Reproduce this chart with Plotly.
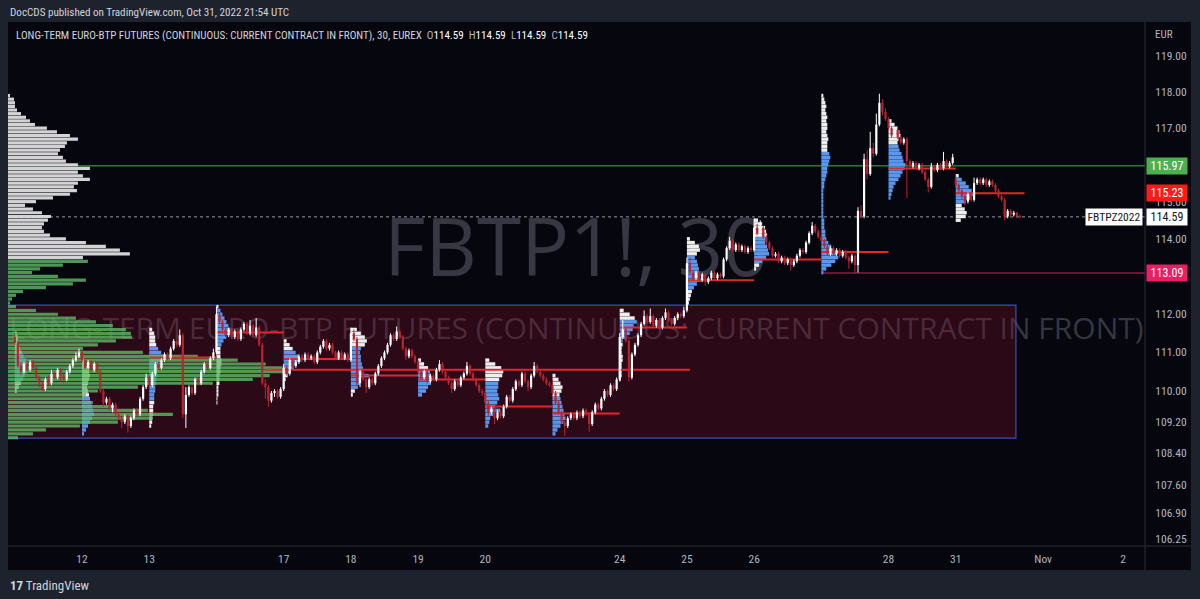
import math
import plotly.graph_objects as go

# ---------------------------------------------------------------- data ----
session_labels = ["Oct 11", "Oct 12", "Oct 13", "Oct 14", "Oct 17", "Oct 18", "Oct 19",
                  "Oct 20", "Oct 21", "Oct 24", "Oct 25", "Oct 26", "Oct 27", "Oct 28", "Oct 31"]
BARS_PER_SESSION = 22   # 30-minute bars per session

opens = [
    111.40, 111.25, 110.65, 110.50, 110.70, 110.55, 110.75, 110.60, 110.35, 110.20, 110.05, 110.30, 110.20, 110.45, 110.35, 110.55, 110.40, 110.30, 110.50, 110.65, 110.80, 110.90,
    111.00, 110.80, 110.60, 110.75, 110.55, 110.70, 110.50, 110.00, 109.70, 109.80, 109.55, 109.65, 109.40, 109.30, 109.20, 109.35, 109.10, 109.30, 109.50, 109.40, 109.80, 110.10,
    110.35, 110.15, 110.45, 110.70, 110.60, 110.80, 110.95, 110.85, 111.10, 111.30, 111.20, 111.45, 109.40, 109.90, 110.10, 109.95, 110.30, 110.20, 110.50, 110.70, 110.60, 110.85,
    111.00, 112.00, 111.80, 111.60, 111.45, 111.60, 111.40, 111.55, 111.35, 111.60, 111.75, 111.50, 111.70, 111.45, 111.65, 111.20, 110.20, 110.10, 109.75, 109.95, 110.00, 109.85,
    110.05, 110.60, 110.45, 110.80, 110.65, 110.75, 110.90, 110.80, 110.95, 110.85, 110.90, 110.75, 111.00, 111.15, 111.30, 111.10, 111.20, 111.00, 110.85, 111.00, 110.85, 110.95,
    110.80, 111.50, 111.35, 110.20, 110.50, 110.30, 110.10, 110.30, 110.20, 110.45, 110.65, 110.85, 111.00, 111.20, 111.45, 111.35, 111.55, 111.40, 111.10, 110.90, 111.05, 110.90,
    110.75, 110.50, 110.35, 110.50, 110.25, 110.40, 110.30, 110.55, 110.70, 110.50, 110.35, 110.20, 110.05, 110.25, 110.15, 110.35, 110.45, 110.65, 110.45, 110.30, 110.15, 110.00,
    109.95, 109.70, 109.45, 109.55, 109.30, 109.45, 109.35, 109.60, 109.85, 109.75, 110.05, 110.25, 110.15, 110.45, 110.25, 110.10, 110.40, 110.65, 110.50, 110.40, 110.30, 110.20,
    110.15, 109.95, 109.70, 109.45, 109.20, 109.10, 109.30, 109.40, 109.30, 109.45, 109.35, 109.50, 109.40, 109.15, 109.45, 109.65, 109.55, 109.80, 110.00, 109.90, 110.15, 110.05,
    110.30, 111.40, 111.60, 111.30, 110.35, 110.95, 111.20, 111.45, 111.75, 111.95, 111.80, 111.95, 111.70, 111.85, 111.65, 111.90, 112.05, 111.85, 111.75, 111.90, 112.00, 111.95,
    112.10, 113.35, 113.10, 112.95, 113.10, 112.90, 113.05, 112.85, 112.95, 113.10, 112.95, 113.05, 113.00, 113.45, 113.75, 113.95, 113.70, 113.85, 113.70, 113.80, 113.65, 113.75,
    113.70, 114.30, 114.15, 114.30, 114.05, 113.90, 113.75, 113.55, 113.60, 113.40, 113.50, 113.35, 113.45, 113.30, 113.40, 113.55, 113.70, 113.65, 113.90, 114.15, 114.35, 114.20,
    114.05, 113.95, 113.80, 113.60, 113.75, 113.60, 113.70, 113.55, 113.65, 113.50, 113.40, 113.55, 113.30, 114.75, 114.60, 116.15, 115.75, 116.45, 116.30, 117.10, 117.70, 117.45,
    117.25, 117.00, 116.80, 116.95, 116.75, 116.60, 116.70, 116.10, 115.95, 116.05, 115.90, 116.00, 115.80, 115.60, 115.40, 115.95, 115.85, 116.00, 115.90, 116.10, 115.95, 116.05,
    115.60, 115.45, 115.30, 115.15, 115.00, 115.20, 115.05, 115.50, 115.60, 115.50, 115.60, 115.45, 115.55, 115.45, 115.30, 115.15, 115.05, 114.60, 114.75, 114.65, 114.70, 114.60,
]
highs = [
    111.50, 111.30, 110.75, 110.75, 110.75, 110.80, 110.80, 110.65, 110.40, 110.25, 110.35, 110.40, 110.55, 110.50, 110.60, 110.60, 110.45, 110.55, 110.70, 110.85, 111.00, 111.10,
    111.05, 110.85, 110.80, 110.80, 110.75, 110.75, 110.55, 110.05, 109.85, 109.85, 109.70, 109.70, 109.45, 109.35, 109.40, 109.40, 109.35, 109.55, 109.55, 109.85, 110.15, 110.45,
    110.40, 110.50, 110.75, 110.75, 110.85, 111.00, 111.00, 111.15, 111.35, 111.35, 111.60, 111.50, 110.10, 110.15, 110.15, 110.35, 110.35, 110.55, 110.75, 110.75, 110.90, 111.10,
    112.20, 112.05, 111.85, 111.65, 111.65, 111.65, 111.60, 111.60, 111.65, 111.80, 111.80, 111.85, 111.75, 111.90, 111.70, 111.25, 110.30, 110.15, 110.00, 110.05, 110.05, 110.10,
    110.70, 110.65, 110.85, 110.85, 110.80, 110.95, 110.95, 111.00, 111.00, 110.95, 110.95, 111.05, 111.20, 111.35, 111.35, 111.25, 111.25, 111.05, 111.05, 111.05, 111.00, 111.00,
    111.65, 111.60, 111.40, 110.55, 110.55, 110.35, 110.35, 110.35, 110.50, 110.70, 110.90, 111.05, 111.25, 111.50, 111.50, 111.68, 111.60, 111.45, 111.15, 111.10, 111.10, 110.95,
    110.80, 110.55, 110.55, 110.55, 110.45, 110.45, 110.60, 110.80, 110.75, 110.55, 110.40, 110.25, 110.30, 110.30, 110.40, 110.50, 110.75, 110.70, 110.50, 110.35, 110.20, 110.05,
    110.00, 109.75, 109.60, 109.60, 109.50, 109.50, 109.65, 109.90, 109.90, 110.10, 110.30, 110.30, 110.50, 110.50, 110.30, 110.45, 110.75, 110.70, 110.55, 110.45, 110.35, 110.25,
    110.30, 110.00, 109.75, 109.50, 109.25, 109.35, 109.45, 109.45, 109.50, 109.50, 109.55, 109.55, 109.45, 109.50, 109.70, 109.70, 109.85, 110.05, 110.05, 110.20, 110.20, 110.35,
    111.50, 111.85, 111.65, 111.35, 111.00, 111.25, 111.50, 111.80, 112.10, 112.00, 112.15, 112.00, 111.90, 111.90, 111.95, 112.15, 112.10, 111.90, 111.95, 112.05, 112.05, 112.20,
    113.50, 113.50, 113.15, 113.15, 113.15, 113.10, 113.10, 113.00, 113.15, 113.15, 113.10, 113.10, 113.50, 113.80, 114.05, 114.00, 113.90, 113.90, 113.85, 113.85, 113.80, 113.80,
    114.55, 114.40, 114.50, 114.35, 114.10, 113.95, 113.80, 113.65, 113.65, 113.55, 113.55, 113.50, 113.50, 113.45, 113.60, 113.75, 113.75, 113.95, 114.20, 114.45, 114.40, 114.25,
    114.20, 114.00, 113.85, 113.80, 113.80, 113.75, 113.75, 113.70, 113.70, 113.55, 113.60, 113.60, 114.85, 114.90, 116.30, 116.40, 116.90, 116.60, 117.40, 117.95, 117.80, 117.55,
    117.30, 117.05, 117.00, 117.00, 116.80, 116.75, 116.75, 116.15, 116.10, 116.10, 116.05, 116.05, 115.85, 115.65, 116.05, 116.00, 116.05, 116.05, 116.35, 116.15, 116.10, 116.30,
    115.70, 115.50, 115.35, 115.20, 115.25, 115.25, 115.65, 115.65, 115.65, 115.65, 115.65, 115.60, 115.60, 115.50, 115.35, 115.20, 115.10, 114.80, 114.80, 114.75, 114.72, 114.65,
]
lows = [
    111.20, 110.60, 110.40, 110.45, 110.50, 110.50, 110.50, 110.30, 110.10, 110.00, 110.00, 110.15, 110.15, 110.30, 110.30, 110.25, 110.20, 110.25, 110.45, 110.60, 110.75, 110.85,
    110.75, 110.55, 110.55, 110.50, 110.50, 110.45, 109.95, 109.60, 109.65, 109.50, 109.45, 109.35, 109.25, 109.05, 109.15, 108.93, 109.05, 109.25, 109.35, 109.35, 109.75, 110.05,
    110.05, 110.10, 110.40, 110.55, 110.55, 110.75, 110.80, 110.80, 111.05, 111.15, 111.15, 109.30, 109.05, 109.85, 109.90, 109.90, 110.15, 110.15, 110.45, 110.55, 110.55, 110.80,
    110.95, 111.75, 111.55, 111.40, 111.40, 111.35, 111.35, 111.30, 111.30, 111.55, 111.45, 111.45, 111.40, 111.40, 111.15, 110.15, 109.80, 109.60, 109.70, 109.85, 109.80, 109.80,
    110.00, 110.40, 110.40, 110.60, 110.60, 110.70, 110.75, 110.75, 110.80, 110.80, 110.70, 110.70, 110.95, 111.10, 111.05, 111.05, 110.95, 110.80, 110.80, 110.80, 110.80, 110.75,
    110.75, 111.30, 110.15, 110.10, 110.25, 109.95, 110.05, 110.15, 110.15, 110.40, 110.60, 110.80, 110.95, 111.15, 111.30, 111.30, 111.35, 111.05, 110.80, 110.85, 110.85, 110.70,
    110.45, 110.30, 110.30, 110.20, 110.20, 110.25, 110.25, 110.50, 110.45, 110.30, 110.15, 109.95, 110.00, 110.10, 110.10, 110.30, 110.40, 110.40, 110.25, 110.10, 109.95, 109.88,
    109.65, 109.35, 109.40, 109.15, 109.25, 109.30, 109.30, 109.55, 109.70, 109.70, 110.00, 110.10, 110.10, 110.20, 110.00, 110.05, 110.35, 110.45, 110.35, 110.25, 110.15, 110.10,
    109.90, 109.65, 109.40, 109.15, 108.85, 109.05, 109.25, 109.25, 109.25, 109.30, 109.30, 109.35, 108.95, 109.10, 109.40, 109.50, 109.50, 109.75, 109.85, 109.85, 110.00, 110.00,
    110.25, 111.35, 111.25, 110.25, 110.30, 110.90, 111.15, 111.40, 111.70, 111.75, 111.75, 111.65, 111.65, 111.60, 111.60, 111.85, 111.80, 111.70, 111.70, 111.85, 111.90, 111.90,
    112.05, 113.05, 112.90, 112.90, 112.85, 112.85, 112.75, 112.80, 112.90, 112.90, 112.90, 112.95, 112.95, 113.40, 113.70, 113.65, 113.65, 113.65, 113.65, 113.60, 113.60, 113.65,
    113.65, 114.10, 114.10, 114.00, 113.85, 113.70, 113.50, 113.50, 113.35, 113.35, 113.30, 113.30, 113.15, 113.25, 113.35, 113.50, 113.60, 113.60, 113.85, 114.10, 114.15, 114.00,
    113.85, 113.75, 113.55, 113.55, 113.55, 113.55, 113.50, 113.50, 113.45, 113.20, 113.35, 113.09, 113.10, 114.55, 114.55, 115.60, 115.70, 116.20, 116.25, 117.05, 117.35, 117.20,
    116.95, 116.75, 116.75, 116.70, 116.55, 116.55, 115.10, 115.90, 115.90, 115.85, 115.85, 115.75, 115.55, 115.25, 115.35, 115.80, 115.80, 115.85, 115.85, 115.90, 115.90, 116.00,
    115.40, 115.25, 115.05, 114.90, 114.95, 115.00, 115.00, 115.45, 115.45, 115.45, 115.40, 115.40, 115.40, 115.25, 115.10, 115.00, 114.50, 114.55, 114.60, 114.60, 114.55, 114.55,
]
closes = [
    111.25, 110.65, 110.50, 110.70, 110.55, 110.75, 110.60, 110.35, 110.20, 110.05, 110.30, 110.20, 110.45, 110.35, 110.55, 110.40, 110.30, 110.50, 110.65, 110.80, 110.90, 111.00,
    110.80, 110.60, 110.75, 110.55, 110.70, 110.50, 110.00, 109.70, 109.80, 109.55, 109.65, 109.40, 109.30, 109.20, 109.35, 109.10, 109.30, 109.50, 109.40, 109.80, 110.10, 110.35,
    110.15, 110.45, 110.70, 110.60, 110.80, 110.95, 110.85, 111.10, 111.30, 111.20, 111.45, 109.40, 109.90, 110.10, 109.95, 110.30, 110.20, 110.50, 110.70, 110.60, 110.85, 111.00,
    112.00, 111.80, 111.60, 111.45, 111.60, 111.40, 111.55, 111.35, 111.60, 111.75, 111.50, 111.70, 111.45, 111.65, 111.20, 110.20, 110.10, 109.75, 109.95, 110.00, 109.85, 110.05,
    110.60, 110.45, 110.80, 110.65, 110.75, 110.90, 110.80, 110.95, 110.85, 110.90, 110.75, 111.00, 111.15, 111.30, 111.10, 111.20, 111.00, 110.85, 111.00, 110.85, 110.95, 110.80,
    111.50, 111.35, 110.20, 110.50, 110.30, 110.10, 110.30, 110.20, 110.45, 110.65, 110.85, 111.00, 111.20, 111.45, 111.35, 111.55, 111.40, 111.10, 110.90, 111.05, 110.90, 110.75,
    110.50, 110.35, 110.50, 110.25, 110.40, 110.30, 110.55, 110.70, 110.50, 110.35, 110.20, 110.05, 110.25, 110.15, 110.35, 110.45, 110.65, 110.45, 110.30, 110.15, 110.00, 109.95,
    109.70, 109.45, 109.55, 109.30, 109.45, 109.35, 109.60, 109.85, 109.75, 110.05, 110.25, 110.15, 110.45, 110.25, 110.10, 110.40, 110.65, 110.50, 110.40, 110.30, 110.20, 110.15,
    109.95, 109.70, 109.45, 109.20, 109.10, 109.30, 109.40, 109.30, 109.45, 109.35, 109.50, 109.40, 109.15, 109.45, 109.65, 109.55, 109.80, 110.00, 109.90, 110.15, 110.05, 110.30,
    111.40, 111.60, 111.30, 110.35, 110.95, 111.20, 111.45, 111.75, 111.95, 111.80, 111.95, 111.70, 111.85, 111.65, 111.90, 112.05, 111.85, 111.75, 111.90, 112.00, 111.95, 112.10,
    113.35, 113.10, 112.95, 113.10, 112.90, 113.05, 112.85, 112.95, 113.10, 112.95, 113.05, 113.00, 113.45, 113.75, 113.95, 113.70, 113.85, 113.70, 113.80, 113.65, 113.75, 113.70,
    114.30, 114.15, 114.30, 114.05, 113.90, 113.75, 113.55, 113.60, 113.40, 113.50, 113.35, 113.45, 113.30, 113.40, 113.55, 113.70, 113.65, 113.90, 114.15, 114.35, 114.20, 114.05,
    113.95, 113.80, 113.60, 113.75, 113.60, 113.70, 113.55, 113.65, 113.50, 113.40, 113.55, 113.30, 114.75, 114.60, 116.15, 115.75, 116.45, 116.30, 117.10, 117.70, 117.45, 117.25,
    117.00, 116.80, 116.95, 116.75, 116.60, 116.70, 116.10, 115.95, 116.05, 115.90, 116.00, 115.80, 115.60, 115.40, 115.95, 115.85, 116.00, 115.90, 116.10, 115.95, 116.05, 116.20,
    115.45, 115.30, 115.15, 115.00, 115.20, 115.05, 115.50, 115.60, 115.50, 115.60, 115.45, 115.55, 115.45, 115.30, 115.15, 115.05, 114.60, 114.75, 114.65, 114.70, 114.60, 114.59,
]

# composite (visible range) volume profile, rows of 0.10 from the top
comp_top = 117.9
comp_step = 0.1
comp_vol = [
    2, 6, 7, 7, 9, 13, 18, 22, 27, 39,
    49, 62, 70, 59, 57, 52, 50, 55, 58, 70,
    82, 70, 75, 82, 70, 66, 69, 62, 45, 28,
    17, 25, 34, 43, 40, 36, 34, 36, 42, 58,
    78, 98, 112, 122, 75, 80, 55, 32, 24, 50,
    78, 65, 38, 15, 8, 4, 2, 8, 28, 50,
    68, 88, 105, 118, 123, 124, 108, 90, 75, 135,
    190, 230, 258, 275, 282, 262, 245, 205, 130, 90,
    78, 76, 85, 105, 140, 165, 145, 110, 72, 38,
    25, 10,
]
comp_va_high = 113.45

# per-session volume profiles (rows of 0.10 from each session's top)
sess_step = 0.1
sess_top = [111.5, 110.8, 111.6, 112.2, 111.3, 111.6, 110.8, 110.8, 110.4, 112.1, 114.0, 114.5, 117.9, 117.2, 115.7]
sess_vol = [
    [2, 3, 3, 4, 5, 7, 9, 11, 13, 14, 12, 10, 8, 6, 4, 2],
    [2, 3, 5, 7, 8, 7, 6, 5, 6, 7, 8, 9, 10, 11, 12, 10, 8, 6, 4, 2],
    [3, 5, 6, 6, 7, 9, 12, 17, 12, 10, 9, 8, 8, 7, 7, 6, 6, 5, 5, 5, 4, 4, 4, 3, 3, 2],
    [2, 4, 6, 8, 10, 12, 14, 13, 10, 7, 5, 4, 4, 4, 5, 5, 4, 4, 3, 3, 3, 2, 2, 2, 1, 1],
    [3, 6, 9, 12, 15, 17, 13, 10, 7, 4, 2],
    [6, 10, 14, 16, 14, 10, 9, 10, 10, 11, 12, 11, 18, 10, 9, 7, 4, 2],
    [3, 6, 10, 12, 13, 14, 13, 10, 8, 4],
    [4, 10, 16, 18, 17, 14, 13, 13, 12, 13, 14, 12, 10, 15, 8, 5, 4, 3],
    [3, 6, 8, 10, 9, 7, 8, 9, 10, 11, 12, 13, 11, 8, 5, 3],
    [4, 10, 15, 17, 14, 13, 10, 7, 3, 3, 2, 2, 3, 3, 2, 2, 2, 2, 1],
    [3, 8, 12, 13, 10, 8, 10, 11, 12, 12, 13, 14, 10, 7, 5, 4, 3, 2, 1],
    [4, 8, 11, 12, 13, 12, 11, 13, 14, 15, 12, 8, 5, 2],
    [2, 3, 4, 5, 4, 5, 6, 5, 6, 6, 5, 6, 7, 6, 6, 6, 8, 9, 8, 7, 6, 6, 5, 4, 3,
     3, 2, 2, 2, 2, 2, 2, 2, 2, 3, 3, 3, 4, 4, 5, 7, 10, 12, 16, 17, 14, 10, 5, 2],
    [3, 6, 9, 11, 12, 10, 9, 10, 11, 13, 14, 15, 17, 16, 14, 12, 10, 7, 5, 4, 3, 2],
    [3, 6, 10, 13, 16, 18, 15, 10, 6, 9, 11, 10, 5],
]
sess_va_high = [110.95, 109.85, 111.15, 112.15, 111.05, 111.15, 110.55, 110.25, 109.85, 111.85, 113.55, 114.05, 116.35, 116.55, 115.65]
sess_va_low = [110.25, 108.85, 109.75, 111.15, 110.45, 110.05, 109.85, 109.05, 108.85, 111.25, 112.65, 113.35, 113.05, 115.05, 114.95]

# point-of-control lines (bar index from, bar index to, price)
poc_start = [44, 66, 82, 88, 110, 132, 154, 176, 198, 220, 242, 264, 286, 308]
poc_end = [66, 88, 221, 110, 132, 154, 176, 198, 220, 242, 264, 286, 308, 330.5]
poc_price = [110.87, 111.52, 110.55, 110.83, 110.40, 110.30, 109.60, 109.42, 111.65, 112.90, 113.45, 113.65, 115.90, 115.23]

level_green = 115.97
level_red = 113.09
level_red_from_bar = 264.5
poc_label = 115.23
last_price = 114.59
symbol_code = "FBTPZ2022"

box_top, box_bottom = 112.24, 108.79
box_to_bar = 327.7

# 116 and 113 sit under the coloured level labels in the reference, so they are not shown
y_tick_vals = [119, 118, 117, 115, 114, 112, 111, 110, 109.2, 108.4, 107.6, 106.9, 106.25]
x_tick_text = ["12", "13", "17", "18", "19", "20", "24", "25", "26", "28", "31", "Nov", "2"]
x_tick_bars = [22, 44, 88, 110, 132, 154, 198, 220, 242, 286, 308, 336.6, 362.8]

# ---------------------------------------------------------------- style ---
W, H = 1200, 599
M_L, M_R, M_T, M_B = 8, 55, 22, 53
X_RANGE = [-2.23, 369.95]
Y_RANGE = [math.log10(106.07), math.log10(119.953)]
PLOT_W, PLOT_H = W - M_L - M_R, H - M_T - M_B

BG_PAGE = "#1e222d"
BG_PANEL = "#06060f"
SEP = "#2a2e39"
TXT = "#b2b5be"
UP = "#ffffff"
DOWN = "#bb2330"
POC = "#e3262d"
VA_BLUE = "#5a98ee"
PROF_WHITE = "#eeeeee"
FONT = "Liberation Sans Narrow, Roboto Condensed, Arial Narrow, Roboto, sans-serif"
WM_FONT = "Open Sans, sans-serif"
VOL_TO_BARS = 0.327

n = len(closes)
assert len(opens) == n and len(highs) == n and len(lows) == n, (len(opens), len(highs), len(lows), n)
assert len(comp_vol) == 92

fig = go.Figure()


def py(fy):  # paper y for a pixel row
    return (H - M_B - fy) / PLOT_H


def px_(fx):  # paper x for a pixel column
    return (fx - M_L) / PLOT_W


# watermark (under everything)
wm_x = (X_RANGE[0] + X_RANGE[1]) / 2
wm_y1 = 10 ** (Y_RANGE[0] + py(256) * (Y_RANGE[1] - Y_RANGE[0]))
wm_y2 = 10 ** (Y_RANGE[0] + py(331) * (Y_RANGE[1] - Y_RANGE[0]))
fig.add_trace(go.Scatter(x=[wm_x], y=[wm_y1], mode="text", text=["FBTP1!, 30"],
                         textfont=dict(family=WM_FONT, size=80, color="rgba(122,125,138,0.42)"),
                         hoverinfo="skip", showlegend=False))
fig.add_trace(go.Scatter(x=[wm_x], y=[wm_y2], mode="text",
                         text=["LONG-TERM EURO-BTP FUTURES (CONTINUOUS: CURRENT CONTRACT IN FRONT)"],
                         textfont=dict(family=WM_FONT, size=30, color="rgba(122,125,138,0.42)"),
                         hoverinfo="skip", showlegend=False))

# rectangle drawing
bx0 = X_RANGE[0] - 3
fig.add_trace(go.Scatter(x=[bx0, box_to_bar, box_to_bar, bx0, bx0],
                         y=[box_top, box_top, box_bottom, box_bottom, box_top],
                         mode="lines", fill="toself", fillcolor="rgba(128,16,42,0.30)",
                         line=dict(color="#3d4db8", width=1.2), hoverinfo="skip", showlegend=False))

# horizontal levels
fig.add_trace(go.Scatter(x=[X_RANGE[0], X_RANGE[1]], y=[level_green, level_green], mode="lines",
                         line=dict(color="#4caf50", width=1), hoverinfo="skip", showlegend=False))
fig.add_trace(go.Scatter(x=[level_red_from_bar, X_RANGE[1]], y=[level_red, level_red], mode="lines",
                         line=dict(color="#d0245a", width=1), hoverinfo="skip", showlegend=False))
fig.add_trace(go.Scatter(x=[X_RANGE[0], X_RANGE[1]], y=[last_price, last_price], mode="lines",
                         line=dict(color="#9598a1", width=1, dash="dot"), hoverinfo="skip", showlegend=False))

# session volume profiles
sx = {"va": ([], []), "out": ([], [])}
for k, (top, vols) in enumerate(zip(sess_top, sess_vol)):
    x0 = k * BARS_PER_SESSION
    for j, v in enumerate(vols):
        p = round(top - j * sess_step, 2)
        key = "va" if sess_va_low[k] <= p <= sess_va_high[k] else "out"
        sx[key][0].extend([x0, x0 + v * VOL_TO_BARS, None])
        sx[key][1].extend([p, p, None])
fig.add_trace(go.Scatter(x=sx["out"][0], y=sx["out"][1], mode="lines",
                         line=dict(color=PROF_WHITE, width=3.5), hoverinfo="skip", showlegend=False))
fig.add_trace(go.Scatter(x=sx["va"][0], y=sx["va"][1], mode="lines",
                         line=dict(color=VA_BLUE, width=3.5), hoverinfo="skip", showlegend=False))

# composite profile
cw = ([], [])
cg = ([], [])
for j, v in enumerate(comp_vol):
    p = round(comp_top - j * comp_step, 2)
    tgt = cg if p <= comp_va_high else cw
    tgt[0].extend([X_RANGE[0], X_RANGE[0] + v * VOL_TO_BARS, None])
    tgt[1].extend([p, p, None])
fig.add_trace(go.Scatter(x=cw[0], y=cw[1], mode="lines", line=dict(color="rgba(222,222,226,0.95)", width=3.2),
                         hoverinfo="skip", showlegend=False))
fig.add_trace(go.Scatter(x=cg[0], y=cg[1], mode="lines", line=dict(color="rgba(96,186,104,0.80)", width=3.2),
                         hoverinfo="skip", showlegend=False))

# POC lines
pxs, pys = [], []
for a, b, p in zip(poc_start, poc_end, poc_price):
    pxs.extend([a, b, None])
    pys.extend([p, p, None])
fig.add_trace(go.Scatter(x=pxs, y=pys, mode="lines", line=dict(color=POC, width=2),
                         hoverinfo="skip", showlegend=False))

# candles
for col, is_up in ((UP, True), (DOWN, False)):
    wx, wy, bxs, bys = [], [], [], []
    for i in range(n):
        o, h, l, c = opens[i], highs[i], lows[i], closes[i]
        if (c >= o) != is_up:
            continue
        wx.extend([i, i, None])
        wy.extend([min(l, o, c), max(h, o, c), None])
        lo_, hi_ = min(o, c), max(o, c)
        if hi_ - lo_ < 0.02:
            hi_ = lo_ + 0.02
        bxs.extend([i, i, None])
        bys.extend([lo_, hi_, None])
    fig.add_trace(go.Scatter(x=wx, y=wy, mode="lines", line=dict(color=col, width=1),
                             hoverinfo="skip", showlegend=False))
    fig.add_trace(go.Scatter(x=bxs, y=bys, mode="lines", line=dict(color=col, width=2.2),
                             hoverinfo="skip", showlegend=False))

# ---------------------------------------------------------------- layout --
shapes = [
    dict(type="rect", xref="paper", yref="paper", x0=0, x1=px_(1191), y0=py(570), y1=1,
         fillcolor=BG_PANEL, line=dict(width=0), layer="below"),
    dict(type="line", xref="paper", yref="paper", x0=1, x1=1, y0=py(570), y1=1,
         line=dict(color=SEP, width=1)),
    dict(type="line", xref="paper", yref="paper", x0=0, x1=px_(1191), y0=0, y1=0,
         line=dict(color=SEP, width=1)),
]

ann = []
ann.append(dict(xref="paper", yref="paper", x=0, y=py(12), xanchor="left", yanchor="middle",
                text="DocCDS published on TradingView.com, Oct 31, 2022 21:54 UTC",
                font=dict(family=FONT, size=11.1, color="#d1d4dc"), showarrow=False))
ohlc = "  ".join(f"<span style='color:#b2b5be'>{k}</span><span style='color:#ffffff'>{v:.2f}</span>"
                 for k, v in (("O", last_price), ("H", last_price), ("L", last_price), ("C", last_price)))
ann.append(dict(xref="paper", yref="paper", x=px_(14), y=py(35), xanchor="left", yanchor="middle",
                text="LONG-TERM EURO-BTP FUTURES (CONTINUOUS: CURRENT CONTRACT IN FRONT), 30, EUREX  " + ohlc,
                font=dict(family=FONT, size=11.05, color="#d1d4dc"), showarrow=False))
ann.append(dict(xref="paper", yref="paper", x=px_(1153), y=py(34), xanchor="left", yanchor="middle",
                text="EUR", font=dict(family=FONT, size=11, color=TXT), showarrow=False))
ann.append(dict(xref="paper", yref="paper", x=0, y=py(585), xanchor="left", yanchor="middle",
                text="<b>17</b> TradingView", font=dict(family=FONT, size=13, color="#d1d4dc"), showarrow=False))

for val, bg, fg in ((level_green, "#4caf50", "#ffffff"), (poc_label, "#ff1a1a", "#ffffff"),
                    (last_price, "#ffffff", "#131722"), (level_red, "#e91e63", "#ffffff")):
    ann.append(dict(xref="paper", yref="y", x=1, xshift=1, y=math.log10(val), xanchor="left", yanchor="middle",
                    text=f"{val:.2f}", font=dict(family=FONT, size=12, color=fg), bgcolor=bg,
                    width=38, height=14, borderpad=1, align="center", showarrow=False))
ann.append(dict(xref="paper", yref="y", x=1, xshift=-2, y=math.log10(last_price), xanchor="right",
                yanchor="middle", text=symbol_code, font=dict(family=FONT, size=11.5, color="#131722"),
                bgcolor="#ffffff", width=54, height=14, borderpad=1, align="center", showarrow=False))

fig.update_layout(
    width=W, height=H, margin=dict(l=M_L, r=M_R, t=M_T, b=M_B),
    paper_bgcolor=BG_PAGE, plot_bgcolor=BG_PANEL,
    showlegend=False, shapes=shapes, annotations=ann,
    xaxis=dict(range=X_RANGE, showgrid=False, zeroline=False, showline=False,
               tickmode="array", tickvals=x_tick_bars, ticktext=x_tick_text,
               ticks="outside", ticklen=2, tickcolor=BG_PANEL,
               tickfont=dict(family=FONT, size=11.5, color=TXT), fixedrange=True),
    yaxis=dict(type="log", range=Y_RANGE, side="right", showgrid=False, zeroline=False, showline=False,
               tickmode="array", tickvals=y_tick_vals, ticktext=[f"{v:.2f}" for v in y_tick_vals],
               ticks="outside", ticklen=7, tickcolor=BG_PANEL,
               tickfont=dict(family=FONT, size=11.5, color=TXT), fixedrange=True),
)

fig.write_html("out.html")
